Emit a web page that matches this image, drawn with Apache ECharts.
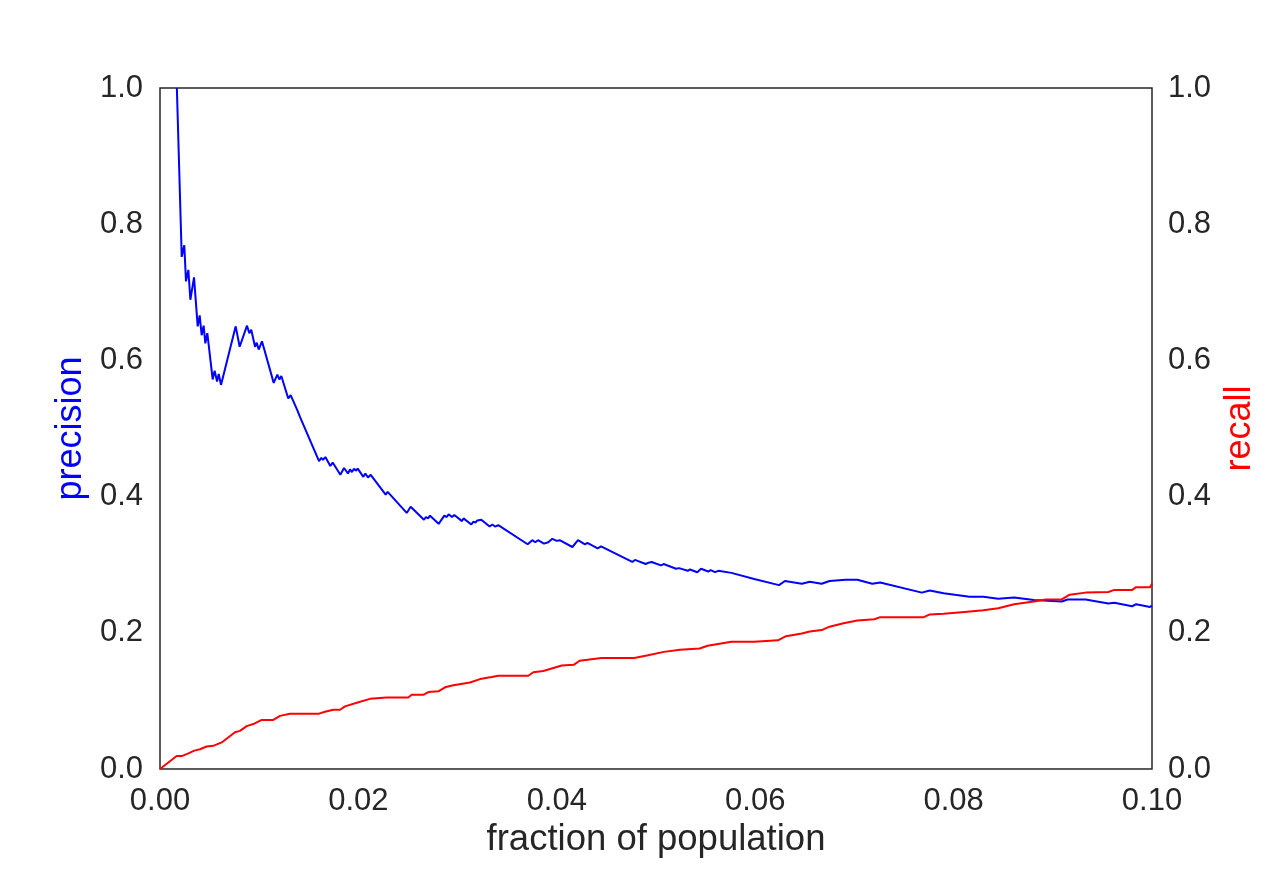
<!DOCTYPE html>
<html>
<head>
<meta charset="utf-8">
<script src="https://cdn.jsdelivr.net/npm/echarts@6/dist/echarts.min.js"></script>
<style>
  html, body { margin: 0; padding: 0; background: #fff; }
  #main { width: 1280px; height: 880px; }
</style>
</head>
<body>
<div id="main"></div>
<script>
// precision curve (fraction of population, precision)
var precisionX = [0.0017, 0.00219, 0.00245, 0.00262, 0.00286, 0.00306, 0.00343, 0.0038, 0.004, 0.0042,
  0.0044, 0.00457, 0.00477, 0.00531, 0.00551, 0.00575, 0.00592, 0.00615, 0.00763, 0.00803,
  0.00877, 0.009, 0.0092, 0.00958, 0.00975, 0.00995, 0.01028, 0.01146, 0.01183, 0.01203,
  0.01223, 0.01293, 0.01317, 0.01384, 0.01411, 0.01603, 0.01626, 0.01643, 0.01667, 0.01717,
  0.01741, 0.01818, 0.01855, 0.01895, 0.01915, 0.01935, 0.01956, 0.01973, 0.01993, 0.0205,
  0.0207, 0.02097, 0.02124, 0.02275, 0.02295, 0.02487, 0.02527, 0.02661, 0.02681, 0.02702,
  0.02722, 0.02809, 0.02866, 0.0289, 0.0291, 0.02944, 0.02967, 0.03044, 0.0306, 0.03138,
  0.03158, 0.03182, 0.03199, 0.03219, 0.03239, 0.03323, 0.0335, 0.03377, 0.0341, 0.03706,
  0.03753, 0.03783, 0.0381, 0.03871, 0.03914, 0.03955, 0.03999, 0.04029, 0.04157, 0.04214,
  0.04284, 0.04308, 0.04412, 0.04446, 0.04761, 0.04788, 0.04896, 0.04926, 0.04956, 0.0505,
  0.05077, 0.05202, 0.05232, 0.0532, 0.05343, 0.05416, 0.05454, 0.05527, 0.05551, 0.05595,
  0.05628, 0.0576, 0.0599, 0.0624, 0.063, 0.0647, 0.0655, 0.0667, 0.0675, 0.0691,
  0.0703, 0.0718, 0.0726, 0.0768, 0.0776, 0.079, 0.0816, 0.083, 0.0845, 0.0861,
  0.0881, 0.0909, 0.0915, 0.0933, 0.0956, 0.0962, 0.098, 0.0984, 0.0998, 0.1];
var precisionY = [1.0, 0.752, 0.769, 0.716, 0.733, 0.689, 0.722, 0.650, 0.666, 0.637,
  0.651, 0.625, 0.640, 0.572, 0.585, 0.569, 0.580, 0.564, 0.650, 0.620,
  0.651, 0.640, 0.645, 0.620, 0.626, 0.616, 0.628, 0.567, 0.579, 0.572,
  0.577, 0.544, 0.549, 0.527, 0.517, 0.452, 0.457, 0.454, 0.458, 0.445,
  0.450, 0.432, 0.442, 0.434, 0.440, 0.436, 0.441, 0.438, 0.441, 0.429,
  0.434, 0.428, 0.432, 0.403, 0.407, 0.376, 0.385, 0.366, 0.370, 0.368,
  0.372, 0.360, 0.372, 0.370, 0.374, 0.370, 0.373, 0.364, 0.368, 0.359,
  0.363, 0.362, 0.365, 0.363, 0.366, 0.356, 0.359, 0.356, 0.358, 0.330,
  0.336, 0.333, 0.336, 0.331, 0.333, 0.338, 0.335, 0.336, 0.326, 0.336,
  0.330, 0.332, 0.324, 0.327, 0.304, 0.307, 0.301, 0.303, 0.304, 0.299,
  0.301, 0.294, 0.295, 0.291, 0.293, 0.289, 0.294, 0.290, 0.292, 0.289,
  0.291, 0.288, 0.279, 0.270, 0.276, 0.272, 0.275, 0.272, 0.276, 0.278,
  0.278, 0.272, 0.274, 0.259, 0.262, 0.258, 0.253, 0.253, 0.250, 0.252,
  0.248, 0.246, 0.249, 0.249, 0.243, 0.244, 0.239, 0.242, 0.238, 0.240];

// recall curve (fraction of population, recall)
var recallX = [0, 0.00168, 0.00219, 0.00286, 0.00346, 0.00403, 0.0047, 0.00537, 0.00622, 0.00756,
  0.00806, 0.00874, 0.00941, 0.01025, 0.01142, 0.0121, 0.0131, 0.01596, 0.01663, 0.01747,
  0.01815, 0.01865, 0.02, 0.02117, 0.02285, 0.02503, 0.02537, 0.02654, 0.02705, 0.02806,
  0.02873, 0.02957, 0.03125, 0.03226, 0.03343, 0.0341, 0.03713, 0.03763, 0.03864, 0.0405,
  0.0417, 0.0423, 0.0445, 0.0478, 0.0492, 0.0508, 0.0524, 0.0544, 0.0552, 0.0564,
  0.0576, 0.0599, 0.0623, 0.0631, 0.0647, 0.0655, 0.0667, 0.0675, 0.0689, 0.0703,
  0.072, 0.0726, 0.077, 0.0776, 0.079, 0.0814, 0.083, 0.0845, 0.0861, 0.0881,
  0.0893, 0.0909, 0.0917, 0.0933, 0.0956, 0.0962, 0.098, 0.0984, 0.0998, 0.1];
var recallY = [0, 0.019, 0.019, 0.023, 0.027, 0.029, 0.033, 0.034, 0.039, 0.054,
  0.056, 0.063, 0.066, 0.072, 0.072, 0.078, 0.081, 0.081, 0.084, 0.087,
  0.087, 0.092, 0.098, 0.103, 0.105, 0.105, 0.109, 0.109, 0.113, 0.114,
  0.120, 0.123, 0.127, 0.132, 0.135, 0.137, 0.137, 0.142, 0.144, 0.152,
  0.153, 0.159, 0.163, 0.163, 0.167, 0.172, 0.175, 0.177, 0.181, 0.184,
  0.187, 0.187, 0.189, 0.195, 0.199, 0.202, 0.204, 0.209, 0.214, 0.218,
  0.220, 0.223, 0.223, 0.227, 0.228, 0.231, 0.233, 0.236, 0.242, 0.246,
  0.249, 0.249, 0.256, 0.259, 0.260, 0.263, 0.263, 0.267, 0.267, 0.272];

var xTicks = ['0.00', '0.02', '0.04', '0.06', '0.08', '0.10'];

function pairs(xs, ys) {
  var out = [];
  for (var i = 0; i < xs.length; i++) out.push([xs[i], ys[i]]);
  return out;
}

var FONT = 'Liberation Sans, Arial, sans-serif';
var INK = '#262626';

var chart = echarts.init(document.getElementById('main'), null, { renderer: 'canvas' });
chart.setOption({
  animation: false,
  backgroundColor: '#fff',
  grid: {
    left: 160, right: 128, top: 88, bottom: 111,
    show: true, borderColor: INK, borderWidth: 1.5, backgroundColor: '#fff'
  },
  xAxis: {
    type: 'value', min: 0, max: 0.1, interval: 0.02,
    name: 'fraction of population', nameLocation: 'middle', nameGap: 52,
    nameTextStyle: { color: INK, fontSize: 36.5, fontFamily: FONT },
    axisLine: { show: false }, axisTick: { show: false }, splitLine: { show: false },
    axisLabel: {
      color: INK, fontSize: 31, fontFamily: FONT, margin: 17,
      formatter: function (v) { return xTicks[Math.round(v / 0.02)]; }
    }
  },
  yAxis: [{
    type: 'value', min: 0, max: 1, interval: 0.2, position: 'left',
    name: 'precision', nameLocation: 'middle', nameGap: 68, nameRotate: 90,
    nameTextStyle: { color: '#0000ff', fontSize: 36, fontFamily: FONT },
    axisLine: { show: false }, axisTick: { show: false }, splitLine: { show: false },
    axisLabel: { color: INK, fontSize: 31, fontFamily: FONT, margin: 17,
      formatter: function (v) { return v.toFixed(1); } }
  }, {
    type: 'value', min: 0, max: 1, interval: 0.2, position: 'right',
    name: 'recall', nameLocation: 'middle', nameGap: 70, nameRotate: 90,
    nameTextStyle: { color: '#ff0000', fontSize: 36, fontFamily: FONT },
    axisLine: { show: false }, axisTick: { show: false }, splitLine: { show: false },
    axisLabel: { color: INK, fontSize: 31, fontFamily: FONT, margin: 16,
      formatter: function (v) { return v.toFixed(1); } }
  }],
  series: [{
    name: 'precision', type: 'line', yAxisIndex: 0,
    data: pairs(precisionX, precisionY),
    showSymbol: false, clip: true,
    lineStyle: { color: '#0000ff', width: 2 }
  }, {
    name: 'recall', type: 'line', yAxisIndex: 1,
    data: pairs(recallX, recallY),
    showSymbol: false, clip: true,
    lineStyle: { color: '#ff0000', width: 2 }
  }]
});
</script>
</body>
</html>
